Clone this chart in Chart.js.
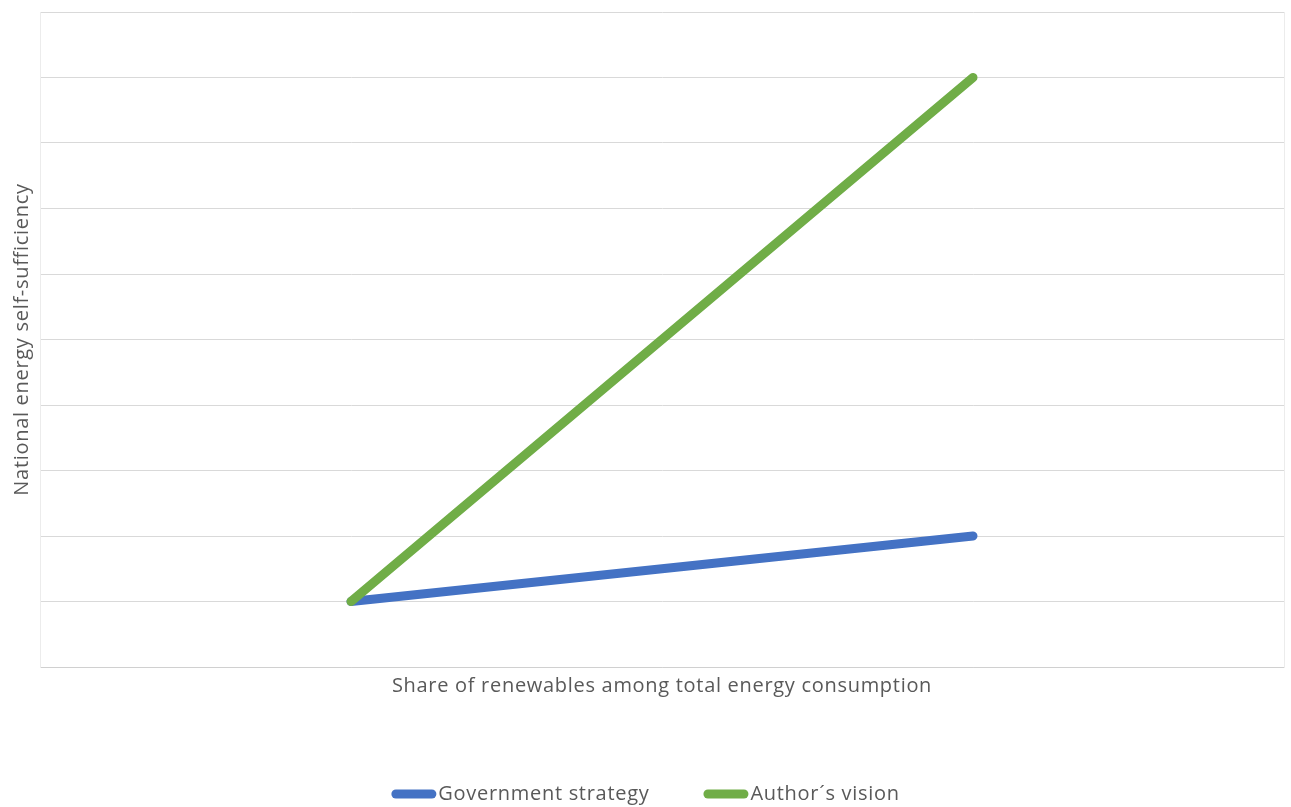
<!DOCTYPE html>
<html>
<head>
<meta charset="utf-8">
<script src="https://cdn.jsdelivr.net/npm/chart.js@4.4.1/dist/chart.umd.min.js"></script>
<style>
  html, body { margin: 0; padding: 0; background: #ffffff; }
  #wrap { width: 1291px; height: 807px; position: relative; }
</style>
</head>
<body>
<div id="wrap"><canvas id="c" width="1291" height="807"></canvas></div>
<script>
// Two scenarios, each going from the present situation to a future one
const categories = ['Present', 'Future'];
const governmentStrategy = [1, 2];
const authorsVision = [1, 9];
const seriesNames = ['Government strategy', 'Author\u00b4s vision'];
const seriesColors = ['#4472C4', '#70AD47'];

const axisFont = 'Open Sans, Noto Sans, sans-serif';
const textColor = '#595959';

// Slightly open letter spacing for all text on the canvas
const openSpacing = {
  id: 'openSpacing',
  beforeDraw(chart) { chart.ctx.letterSpacing = '0.7px'; }
};

// Legend with rounded line markers, drawn centred under the axis title
const lineLegend = {
  id: 'lineLegend',
  afterDraw(chart) {
    const ctx = chart.ctx;
    const markerW = 45, markerH = 9, textGap = 2, itemGap = 54;
    ctx.save();
    ctx.letterSpacing = '0.7px';
    ctx.font = '20px ' + axisFont;
    ctx.textBaseline = 'middle';
    const items = chart.data.datasets.map(ds => ({
      label: ds.label, color: ds.borderColor, w: ctx.measureText(ds.label).width
    }));
    let total = 0;
    items.forEach((it, i) => { total += markerW + textGap + it.w + (i ? itemGap : 0); });
    let x = (chart.width - total) / 2;
    const y = 794;
    items.forEach((it, i) => {
      if (i) x += itemGap;
      ctx.strokeStyle = it.color;
      ctx.lineWidth = markerH;
      ctx.lineCap = 'round';
      ctx.beginPath();
      ctx.moveTo(x + markerH / 2, y);
      ctx.lineTo(x + markerW - markerH / 2, y);
      ctx.stroke();
      x += markerW + textGap;
      ctx.fillStyle = textColor;
      ctx.textAlign = 'left';
      ctx.fillText(it.label, x, y);
      x += it.w;
    });
    ctx.restore();
  }
};

new Chart(document.getElementById('c'), {
  type: 'line',
  data: {
    labels: categories,
    datasets: [
      {
        label: seriesNames[0],
        data: governmentStrategy,
        borderColor: seriesColors[0],
        backgroundColor: seriesColors[0],
        borderWidth: 9,
        borderCapStyle: 'round',
        pointRadius: 0,
        tension: 0,
        order: 1
      },
      {
        label: seriesNames[1],
        data: authorsVision,
        borderColor: seriesColors[1],
        backgroundColor: seriesColors[1],
        borderWidth: 9,
        borderCapStyle: 'round',
        pointRadius: 0,
        tension: 0,
        order: 0
      }
    ]
  },
  options: {
    responsive: false,
    animation: false,
    layout: { padding: { top: 12, right: 7, bottom: 109, left: 0 } },
    plugins: {
      legend: { display: false },
      tooltip: { enabled: false }
    },
    scales: {
      x: {
        offset: true,
        ticks: { display: false },
        grid: { display: false, drawTicks: false },
        border: { display: true, color: '#d0d0d0', width: 1 },
        title: {
          display: true,
          text: 'Share of renewables among total energy consumption',
          color: textColor,
          font: { family: axisFont, size: 20 },
          padding: { top: 7, bottom: 0 }
        }
      },
      y: {
        min: 0,
        max: 10,
        ticks: { display: false, stepSize: 1 },
        grid: { color: '#d9d9d9', drawTicks: false, lineWidth: 1 },
        border: { display: true, color: '#ececec' },
        title: {
          display: true,
          text: 'National energy self-sufficiency',
          color: textColor,
          font: { family: axisFont, size: 20 },
          padding: { top: 10, bottom: 6 }
        }
      },
      yRight: {
        position: 'right',
        min: 0,
        max: 10,
        ticks: { display: false },
        grid: { display: false, drawTicks: false },
        border: { display: true, color: '#ececec' }
      }
    }
  },
  plugins: [openSpacing, lineLegend]
});
</script>
</body>
</html>
